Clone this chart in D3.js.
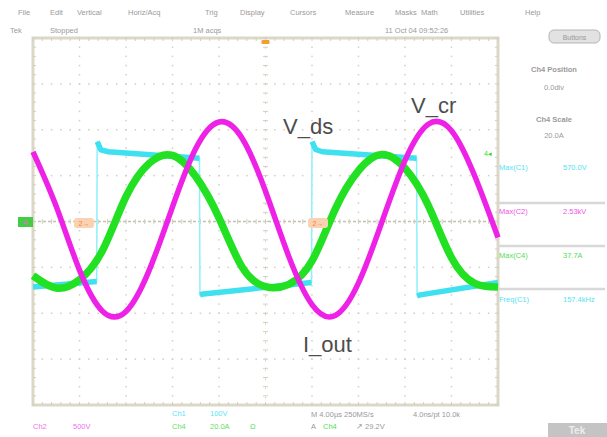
<!DOCTYPE html>
<html>
<head>
<meta charset="utf-8">
<script src="https://cdn.jsdelivr.net/npm/d3@7"></script>
<style>
  html, body { margin: 0; padding: 0; background: #fff; }
  svg { display: block; font-family: "Liberation Sans", Arial, sans-serif; }
</style>
</head>
<body>
<svg id="scope" width="607" height="437"></svg>
<script>
// time positions in divisions (0..10 across the screen)
const timeDiv = [0, 0.5, 1, 1.5, 2, 2.5, 3, 3.5, 4, 4.5, 5, 5.5, 6, 6.5, 7, 7.5, 8, 8.5, 9, 9.5, 10];
// V_cr (Ch2, magenta), divisions
const vcrDiv = [1.52, 0.33, -1.06, -1.96, -1.96, -1.06, 0.32, 1.59, 2.17, 1.81, 0.66, -0.76, -1.81, -2.05, -1.34, -0.02, 1.33, 2.12, 1.98, 0.99, -0.35];
// I_out (Ch4, green), divisions
const ioutDiv = [-1.18, -1.45, -1.27, -0.62, 0.54, 1.27, 1.44, 0.98, 0.08, -1.00, -1.42, -1.37, -0.86, 0.27, 1.11, 1.46, 1.16, 0.35, -0.79, -1.35, -1.43];
// V_ds (Ch1, cyan) square wave, divisions
const vdsT = [0, 1.37, 1.38, 1.46, 1.62, 3.58, 3.59, 3.66, 5.99, 6.00, 6.08, 6.22, 8.25, 8.26, 8.33, 10];
const vdsV = [-1.43, -1.31, 1.74, 1.56, 1.52, 1.38, -1.60, -1.58, -1.33, 1.74, 1.57, 1.52, 1.38, -1.62, -1.60, -1.33];

const menuItems = ['File', 'Edit', 'Vertical', 'Horiz/Acq', 'Trig', 'Display', 'Cursors', 'Measure', 'Masks', 'Math', 'Utilities', 'Help'];
const menuX = [18, 50, 77, 128, 205, 240, 290, 345, 395, 421, 460, 525];

const measLabels = ['Max(C1)', 'Max(C2)', 'Max(C4)', 'Freq(C1)'];
const measValues = ['570.0V', '2.53kV', '37.7A', '157.4kHz'];
const measColors = ['#55e2f0', '#f055e6', '#55dd55', '#55e2f0'];

const svg = d3.select('#scope');
const x = d3.scaleLinear().domain([0, 10]).range([33, 498]);
const y = d3.scaleLinear().domain([-4, 4]).range([405, 38]);

const CYAN = '#3fe0f0', MAGENTA = '#ee22e6', GREEN = '#22e022';
const GRID = '#d3cfbf', FRAME = '#dcd8c8', TXT = '#9a9a9a';

svg.append('rect').attr('width', 607).attr('height', 437).attr('fill', '#fff');

// menu bar + status line
svg.selectAll('text.menu').data(menuItems).join('text')
  .attr('class', 'menu')
  .attr('x', (d, i) => menuX[i]).attr('y', 15)
  .attr('font-size', 7.5).attr('fill', TXT)
  .text(d => d);

svg.append('text').attr('x', 10).attr('y', 33).attr('font-size', 7.5).attr('fill', TXT).text('Tek');
svg.append('text').attr('x', 50).attr('y', 33).attr('font-size', 7.5).attr('fill', TXT).text('Stopped');
svg.append('text').attr('x', 193).attr('y', 33).attr('font-size', 7.5).attr('fill', TXT).text('1M acqs');
svg.append('text').attr('x', 385).attr('y', 33).attr('font-size', 7.5).attr('fill', TXT).text('11 Oct 04 09:52:26');

svg.append('rect').attr('x', 549).attr('y', 30).attr('width', 51).attr('height', 13).attr('rx', 5)
  .attr('fill', '#e2e2e2').attr('stroke', '#b5b5b5');
svg.append('text').attr('x', 574.5).attr('y', 39.5).attr('text-anchor', 'middle')
  .attr('font-size', 7).attr('fill', '#999').text('Buttons');

// graticule
const g = svg.append('g');
g.append('rect')
  .attr('x', x(0)).attr('y', y(4)).attr('width', x(10) - x(0)).attr('height', y(-4) - y(4))
  .attr('fill', 'none').attr('stroke', FRAME).attr('stroke-width', 3);

const minorX = d3.range(0, 10.01, 0.2);
const minorY = d3.range(-4, 4.01, 0.2);
// dotted grid lines
d3.range(1, 10).forEach(k => {
  if (k === 5) return;
  g.selectAll(null).data(minorY).join('rect')
    .attr('x', x(k) - 0.75).attr('y', d => y(d) - 0.75).attr('width', 1.5).attr('height', 1.5)
    .attr('fill', GRID);
});
d3.range(-3, 4).forEach(k => {
  if (k === 0) return;
  g.selectAll(null).data(minorX).join('rect')
    .attr('x', d => x(d) - 0.75).attr('y', y(k) - 0.75).attr('width', 1.5).attr('height', 1.5)
    .attr('fill', GRID);
});
// centre axes with ticks
g.append('line').attr('x1', x(0)).attr('x2', x(10)).attr('y1', y(0)).attr('y2', y(0))
  .attr('stroke', '#c4c0b0').attr('stroke-width', 1.5).attr('stroke-dasharray', '3,2');
g.append('line').attr('x1', x(5)).attr('x2', x(5)).attr('y1', y(4)).attr('y2', y(-4))
  .attr('stroke', GRID).attr('stroke-width', 1).attr('stroke-dasharray', '1.5,7.7');
g.selectAll(null).data(minorX).join('line')
  .attr('x1', d => x(d)).attr('x2', d => x(d)).attr('y1', y(0) - 2.5).attr('y2', y(0) + 2.5)
  .attr('stroke', GRID);
g.selectAll(null).data(minorY).join('line')
  .attr('x1', x(5) - 2.5).attr('x2', x(5) + 2.5).attr('y1', d => y(d)).attr('y2', d => y(d))
  .attr('stroke', GRID);
// frame ticks
g.selectAll(null).data(minorX).join('line')
  .attr('x1', d => x(d)).attr('x2', d => x(d)).attr('y1', y(4)).attr('y2', y(4) + 3)
  .attr('stroke', GRID);
g.selectAll(null).data(minorX).join('line')
  .attr('x1', d => x(d)).attr('x2', d => x(d)).attr('y1', y(-4)).attr('y2', y(-4) - 3)
  .attr('stroke', GRID);
g.selectAll(null).data(minorY).join('line')
  .attr('x1', x(0)).attr('x2', x(0) + 3).attr('y1', d => y(d)).attr('y2', d => y(d))
  .attr('stroke', GRID);
g.selectAll(null).data(minorY).join('line')
  .attr('x1', x(10)).attr('x2', x(10) - 3).attr('y1', d => y(d)).attr('y2', d => y(d))
  .attr('stroke', GRID);

// trigger position marker at top
svg.append('rect').attr('x', x(5) - 4).attr('y', y(4) + 2).attr('width', 8).attr('height', 4)
  .attr('rx', 1).attr('fill', '#f0a030');

// traces
const tr = svg.append('g');
const vds = vdsT.map((t, i) => [t, vdsV[i]]);
tr.append('path')
  .attr('d', d3.line().x(d => x(d[0])).y(d => y(d[1]))(vds))
  .attr('fill', 'none').attr('stroke', '#8ff0fa').attr('stroke-width', 1.5);
// thick plateaus: split where the trace jumps
const segs = [];
let cur = [vds[0]];
for (let i = 1; i < vds.length; i++) {
  if (Math.abs(vds[i][1] - vds[i - 1][1]) > 1) { segs.push(cur); cur = []; }
  cur.push(vds[i]);
}
segs.push(cur);
tr.selectAll(null).data(segs).join('path')
  .attr('d', d3.line().x(d => x(d[0])).y(d => y(d[1])))
  .attr('fill', 'none').attr('stroke', CYAN).attr('stroke-width', 5.5)
  .attr('stroke-linejoin', 'round');

const smooth = d3.line().curve(d3.curveNatural).x((d, i) => x(timeDiv[i])).y(d => y(d));
tr.append('path').attr('d', smooth(ioutDiv))
  .attr('fill', 'none').attr('stroke', GREEN).attr('stroke-width', 7.5);
tr.append('path').attr('d', smooth(vcrDiv))
  .attr('fill', 'none').attr('stroke', MAGENTA).attr('stroke-width', 5.5);

// ground / reference markers
svg.append('rect').attr('x', 18).attr('y', 217).attr('width', 15).attr('height', 10).attr('fill', '#44cc44');
svg.append('text').attr('x', 25.5).attr('y', 225).attr('text-anchor', 'middle')
  .attr('font-size', 8).attr('fill', '#ee66dd').text('4');
[74, 308].forEach(m => {
  svg.append('rect').attr('x', m).attr('y', 218).attr('width', 20).attr('height', 10).attr('rx', 3)
    .attr('fill', '#fbd2b0');
  svg.append('text').attr('x', m + 10).attr('y', 226).attr('text-anchor', 'middle')
    .attr('font-size', 7).attr('fill', '#f08060').text('2→');
});
svg.append('text').attr('x', 484).attr('y', 156).attr('font-size', 7).attr('fill', GREEN).text('4◂');

// trace labels
const lab = svg.append('g').attr('font-size', 22).attr('fill', '#4d4d4d');
lab.append('text').attr('x', 283).attr('y', 134).text('V_ds');
lab.append('text').attr('x', 411).attr('y', 113).text('V_cr');
lab.append('text').attr('x', 303).attr('y', 352).text('I_out');

// right panel
const rp = svg.append('g').attr('fill', TXT).attr('font-size', 7.5);
rp.append('text').attr('x', 554).attr('y', 72).attr('text-anchor', 'middle').attr('font-weight', 'bold').text('Ch4 Position');
rp.append('text').attr('x', 554).attr('y', 90).attr('text-anchor', 'middle').text('0.0div');
rp.append('text').attr('x', 554).attr('y', 122).attr('text-anchor', 'middle').attr('font-weight', 'bold').text('Ch4 Scale');
rp.append('text').attr('x', 554).attr('y', 138).attr('text-anchor', 'middle').text('20.0A');

const rowY = [170, 214, 258, 302];
[203, 246, 289].forEach(s => {
  svg.append('line').attr('x1', 498).attr('x2', 605).attr('y1', s).attr('y2', s)
    .attr('stroke', '#d8d8d8').attr('stroke-width', 2.5);
});
svg.selectAll('text.ml').data(measLabels).join('text')
  .attr('class', 'ml').attr('x', 499).attr('y', (d, i) => rowY[i])
  .attr('font-size', 7.5).attr('fill', (d, i) => measColors[i]).text(d => d);
svg.selectAll('text.mv').data(measValues).join('text')
  .attr('class', 'mv').attr('x', 563).attr('y', (d, i) => rowY[i])
  .attr('font-size', 7.5).attr('fill', (d, i) => measColors[i]).text(d => d);

// bottom status
const bs = svg.append('g').attr('font-size', 7.5);
bs.append('text').attr('x', 33).attr('y', 429).attr('fill', '#f070ee').text('Ch2');
bs.append('text').attr('x', 73).attr('y', 429).attr('fill', '#f070ee').text('500V');
bs.append('text').attr('x', 172).attr('y', 416).attr('fill', '#60e4f4').text('Ch1');
bs.append('text').attr('x', 210).attr('y', 416).attr('fill', '#60e4f4').text('100V');
bs.append('text').attr('x', 172).attr('y', 429).attr('fill', '#66dd66').text('Ch4');
bs.append('text').attr('x', 210).attr('y', 429).attr('fill', '#66dd66').text('20.0A');
bs.append('text').attr('x', 250).attr('y', 429).attr('fill', '#66dd66').text('Ω');
bs.append('text').attr('x', 311).attr('y', 417).attr('fill', TXT).text('M 4.00µs 250MS/s');
bs.append('text').attr('x', 311).attr('y', 429).attr('fill', TXT).text('A');
bs.append('text').attr('x', 323).attr('y', 429).attr('fill', '#55dd55').text('Ch4');
bs.append('text').attr('x', 356).attr('y', 429).attr('fill', TXT).text('↗ 29.2V');
bs.append('text').attr('x', 413).attr('y', 417).attr('fill', TXT).text('4.0ns/pt 10.0k');

svg.append('rect').attr('x', 548).attr('y', 423).attr('width', 59).attr('height', 14).attr('fill', '#c4c4c4');
svg.append('text').attr('x', 577).attr('y', 434).attr('text-anchor', 'middle')
  .attr('font-size', 10).attr('fill', '#eee').attr('font-weight', 'bold').text('Tek');
</script>
</body>
</html>
